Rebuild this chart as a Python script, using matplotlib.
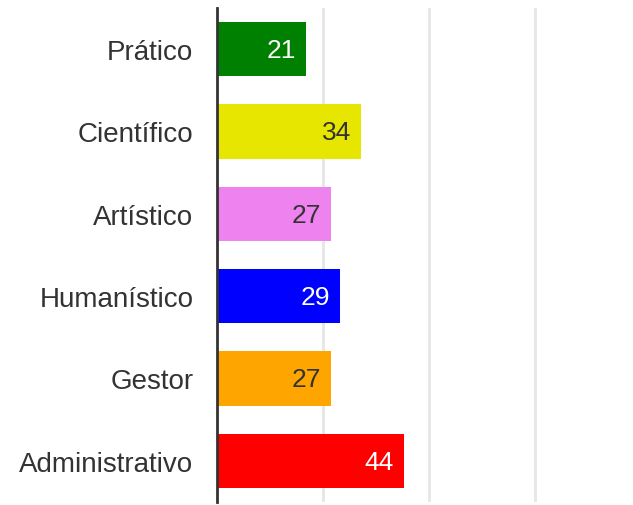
import matplotlib
matplotlib.use("Agg")
import matplotlib.pyplot as plt

categories = ["Prático", "Científico", "Artístico", "Humanístico", "Gestor", "Administrativo"]
values = [21, 34, 27, 29, 27, 44]
colors = ["#008000", "#e6e600", "#ee82ee", "#0000ff", "#ffa500", "#ff0000"]
label_colors = ["white", "#333333", "#333333", "white", "#333333", "white"]

plt.rcParams['font.family'] = ['Liberation Sans', 'DejaVu Sans']

fig = plt.figure(figsize=(6.33, 5.06), dpi=100)
ax = fig.add_axes([217/633, 3/506, (633-217)/633, 494/506])

y = list(range(len(categories)))
bars = ax.barh(y, values, height=0.66, color=colors, zorder=2)
ax.set_ylim(len(categories) - 0.5, -0.5)
ax.set_xlim(0, 416/4.24)
ax.set_xticks([25, 50, 75])
ax.set_xticklabels([])
ax.tick_params(axis='x', length=0)
ax.tick_params(axis='y', length=0, pad=17, labelsize=20, labelcolor="#333333")
ax.set_yticks(y)
ax.set_yticklabels(categories)
ax.grid(axis='x', color="#e6e6e6", linewidth=2, zorder=0)
for s in ["top", "right", "bottom"]:
    ax.spines[s].set_visible(False)
ax.spines["left"].set_color("#333333")
ax.spines["left"].set_linewidth(2)
ax.spines["left"].set_zorder(3)

for bar, v, lc in zip(bars, values, label_colors):
    ax.annotate(str(v), xy=(v, bar.get_y() + bar.get_height()/2),
                xytext=(-10, -1), textcoords="offset pixels",
                ha="right", va="center", fontsize=19, color=lc, zorder=4)

fig.savefig("out.png", dpi=100)
